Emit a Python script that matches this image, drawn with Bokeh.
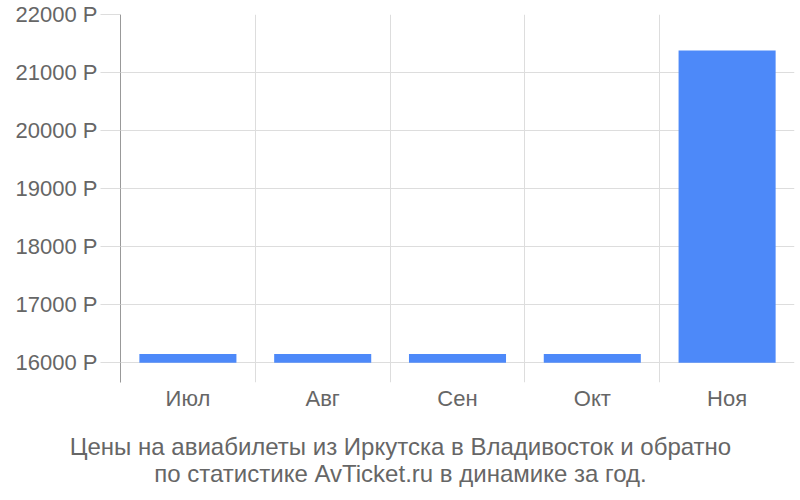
from bokeh.plotting import figure
from bokeh.models import FixedTicker, PrintfTickFormatter, LinearAxis, Range1d
from bokeh.embed import file_html
from bokeh.resources import INLINE

months = ["Июл", "Авг", "Сен", "Окт", "Ноя"]
prices = [16150, 16150, 16150, 16150, 21380]
y_ticks = [16000, 17000, 18000, 19000, 20000, 21000, 22000]
caption = ["Цены на авиабилеты из Иркутска в Владивосток и обратно",
           "по статистике AvTicket.ru в динамике за год."]

FONT = "Liberation Sans"
TXT = "#666666"
FS = "22px"
CAPTION_X = 2.077      # horizontal centre of the caption (page centre) in x units
CAPTION_STANDOFF = [19, -3]

xs = [i + 0.5 for i in range(len(months))]

p = figure(width=800, height=500, output_backend="svg", toolbar_location=None,
           x_range=Range1d(0, len(months)), y_range=Range1d(15660, 22000),
           min_border_left=120, min_border_right=6, min_border_top=14, min_border_bottom=118)
p.outline_line_color = None
p.background_fill_color = "white"
p.border_fill_color = "white"

p.vbar(x=xs, top=prices, bottom=16000, width=0.72, color="#4d89f9", line_color=None)

# y axis
p.yaxis.ticker = FixedTicker(ticks=y_ticks)
p.yaxis.formatter = PrintfTickFormatter(format="%d Р")
p.yaxis.major_label_text_font = FONT
p.yaxis.major_label_text_font_size = FS
p.yaxis.major_label_text_color = TXT
p.yaxis.major_label_standoff = 3
p.yaxis.major_tick_out = 20
p.yaxis.major_tick_in = 0
p.yaxis.major_tick_line_color = "#dddddd"
p.yaxis.minor_tick_line_color = None
p.yaxis.axis_line_color = "#999999"

# x axis
p.xaxis.ticker = FixedTicker(ticks=xs)
p.xaxis.major_label_overrides = {x: m for x, m in zip(xs, months)}
p.xaxis.major_label_text_font = FONT
p.xaxis.major_label_text_font_size = FS
p.xaxis.major_label_text_color = TXT
p.xaxis.major_label_standoff = 3
p.xaxis.major_tick_out = 0
p.xaxis.major_tick_in = 0
p.xaxis.axis_line_color = None
p.xaxis.major_tick_line_color = None
p.xaxis.minor_tick_line_color = None

p.xgrid.ticker = FixedTicker(ticks=list(range(1, len(months) + 1)))
p.xgrid.grid_line_color = "#dddddd"
p.ygrid.grid_line_color = "#dddddd"

# caption lines as single-label axes below the chart
for line, so in zip(caption, CAPTION_STANDOFF):
    ax = LinearAxis(ticker=FixedTicker(ticks=[CAPTION_X]),
                    major_label_overrides={CAPTION_X: line},
                    major_label_text_font=FONT, major_label_text_font_size="24px",
                    major_label_text_color=TXT, major_label_standoff=so,
                    major_tick_out=0, major_tick_in=0, axis_line_color=None,
                    major_tick_line_color=None, minor_tick_line_color=None)
    p.add_layout(ax, "below")

open("out.html", "w").write(file_html(p, INLINE))
